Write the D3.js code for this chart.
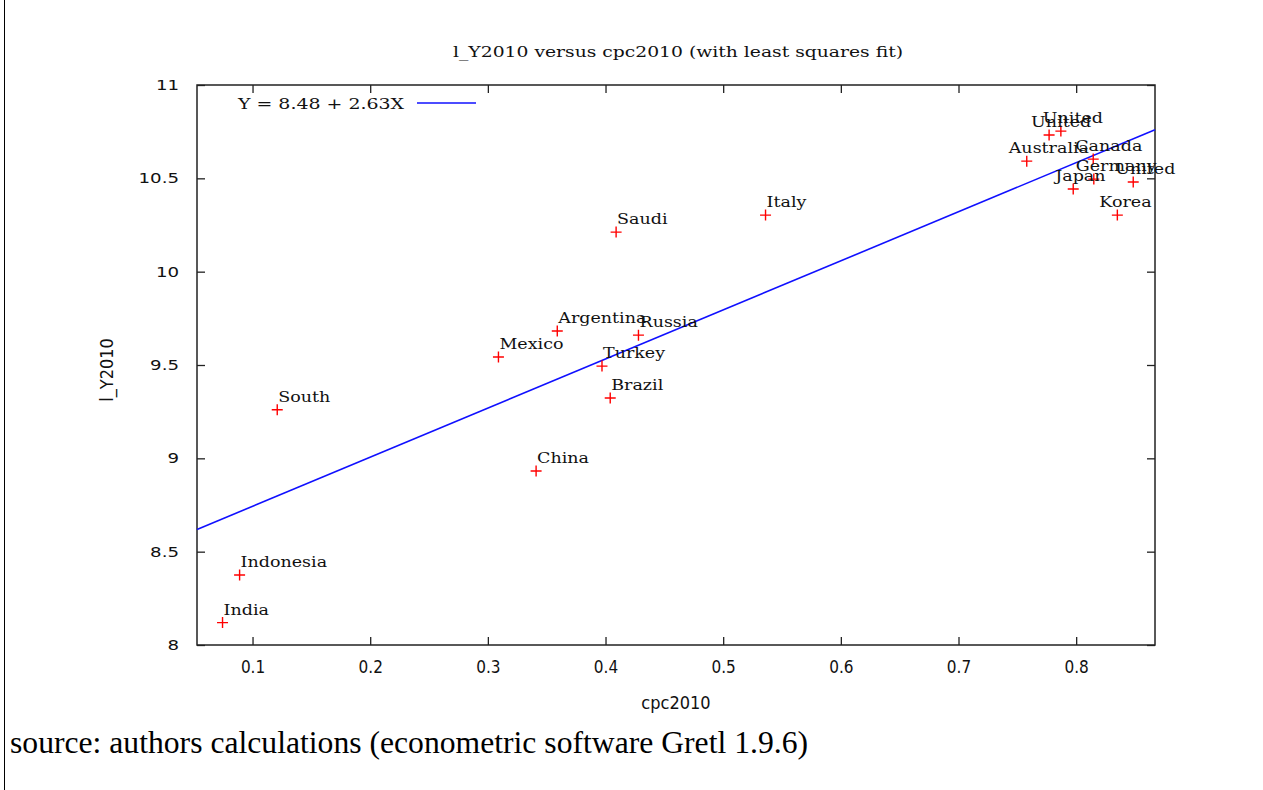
<!DOCTYPE html>
<html>
<head>
<meta charset="utf-8">
<script src="https://cdn.jsdelivr.net/npm/d3@7"></script>
<style>
  html, body { margin: 0; padding: 0; background: #fff; }
  svg { display: block; }
</style>
</head>
<body>
<div id="chart"></div>
<script>
// l_Y2010 vs cpc2010, gretl scatter with OLS fit

const countries = ['India', 'Indonesia', 'South', 'China', 'Mexico', 'Argentina', 'Turkey',
  'Russia', 'Brazil', 'Saudi', 'Italy', 'Australia', 'United', 'United', 'Canada',
  'Germany', 'Japan', 'United', 'Korea'];
const cpc2010 = [0.0745, 0.089, 0.121, 0.341, 0.309, 0.359, 0.397,
  0.428, 0.404, 0.409, 0.536, 0.758, 0.777, 0.787, 0.8145,
  0.815, 0.7975, 0.8485, 0.835];
const lY2010 = [8.12, 8.375, 9.26, 8.932, 9.543, 9.682, 9.494,
  9.66, 9.323, 10.212, 10.303, 10.592, 10.732, 10.753, 10.603,
  10.496, 10.443, 10.48, 10.303];

const fitIntercept = 8.48;
const fitSlope = 2.63;
const xTicks = [0.1, 0.2, 0.3, 0.4, 0.5, 0.6, 0.7, 0.8];
const yTicks = [8, 8.5, 9, 9.5, 10, 10.5, 11];
const xDomain = [0.0528, 0.867];
const yDomain = [8, 11];

const W = 1263, H = 790;
const plot = { left: 197, right: 1155, top: 85, bottom: 645 };

const svg = d3.select('#chart').append('svg')
  .attr('width', W).attr('height', H);

// page edge line on the left
svg.append('line')
  .attr('x1', 4.5).attr('x2', 4.5).attr('y1', 0).attr('y2', H)
  .attr('stroke', '#000').attr('stroke-width', 1);

const x = d3.scaleLinear().domain(xDomain).range([plot.left, plot.right]);
const y = d3.scaleLinear().domain(yDomain).range([plot.bottom, plot.top]);

// title
svg.append('text')
  .attr('x', 678).attr('y', 57)
  .attr('text-anchor', 'middle')
  .attr('font-family', 'DejaVu Serif')
  .attr('font-size', 14)
  .attr('textLength', 450).attr('lengthAdjust', 'spacingAndGlyphs')
  .attr('fill', '#111')
  .text('l_Y2010 versus cpc2010 (with least squares fit)');

// axes (gnuplot style: inward ticks, mirrored)
const tickLen = 8;
const axisB = svg.append('g').attr('transform', `translate(0,${plot.bottom})`)
  .call(d3.axisBottom(x).tickValues(xTicks).tickSize(-tickLen).tickPadding(16)
    .tickFormat(d3.format('.1f')));
const axisT = svg.append('g').attr('transform', `translate(0,${plot.top})`)
  .call(d3.axisTop(x).tickValues(xTicks).tickSize(-tickLen).tickFormat(''));
const axisL = svg.append('g').attr('transform', `translate(${plot.left},0)`)
  .call(d3.axisLeft(y).tickValues(yTicks).tickSize(-tickLen).tickPadding(18)
    .tickFormat(d => d3.format('')(d)));
const axisR = svg.append('g').attr('transform', `translate(${plot.right},0)`)
  .call(d3.axisRight(y).tickValues(yTicks).tickSize(-tickLen).tickFormat(''));

[axisB, axisT, axisL, axisR].forEach(g => {
  g.select('.domain').remove();
  g.selectAll('.tick line').attr('stroke', '#222').attr('stroke-width', 1.3);
});

axisB.selectAll('.tick text')
  .attr('font-family', 'DejaVu Sans Condensed')
  .attr('font-size', 17)
  .attr('fill', '#111');

axisL.selectAll('.tick text')
  .attr('font-family', 'DejaVu Sans')
  .attr('font-size', 14)
  .attr('fill', '#111')
  .attr('transform', 'scale(1.3,1)')
  .attr('x', -18 / 1.3);

// frame
svg.append('rect')
  .attr('x', plot.left).attr('y', plot.top)
  .attr('width', plot.right - plot.left).attr('height', plot.bottom - plot.top)
  .attr('fill', 'none').attr('stroke', '#222').attr('stroke-width', 1.5);

// axis titles
svg.append('text')
  .attr('x', 676).attr('y', 709)
  .attr('text-anchor', 'middle')
  .attr('font-family', 'DejaVu Sans Condensed')
  .attr('font-size', 18)
  .attr('fill', '#111')
  .text('cpc2010');

svg.append('text')
  .attr('transform', 'translate(113,370) rotate(-90)')
  .attr('text-anchor', 'middle')
  .attr('font-family', 'DejaVu Sans Condensed')
  .attr('font-size', 18)
  .attr('fill', '#111')
  .text('l_Y2010');

// least squares line
const fitLine = d3.line().x(d => x(d)).y(d => y(fitIntercept + fitSlope * d));
svg.append('path')
  .attr('d', fitLine(xDomain))
  .attr('fill', 'none')
  .attr('stroke', '#1010ff')
  .attr('stroke-width', 1.6);

// legend
svg.append('text')
  .attr('x', 238).attr('y', 109)
  .attr('font-family', 'DejaVu Serif')
  .attr('font-size', 14)
  .attr('textLength', 166).attr('lengthAdjust', 'spacingAndGlyphs')
  .attr('fill', '#111')
  .text(`Y = ${fitIntercept.toFixed(2)} + ${fitSlope.toFixed(2)}X`);
svg.append('line')
  .attr('x1', 417).attr('x2', 476).attr('y1', 103).attr('y2', 103)
  .attr('stroke', '#1010ff').attr('stroke-width', 1.5);

// points
const pts = countries.map((c, i) => ({ name: c, cx: cpc2010[i], cy: lY2010[i] }));
const arm = 5.5;
const marks = svg.append('g').selectAll('g.pt').data(pts).join('g')
  .attr('class', 'pt')
  .attr('transform', d => `translate(${x(d.cx)},${y(d.cy)})`);
marks.append('path')
  .attr('d', `M${-arm},0H${arm}M0,${-arm}V${arm}`)
  .attr('stroke', '#ff0000').attr('stroke-width', 1.4).attr('fill', 'none');

// labels (gretl nudges the labels left near the right edge)
svg.append('g').selectAll('text').data(pts).join('text')
  .attr('transform', d => {
    const lx = x(d.cx) + (d.cx > 0.7 ? -18 : 1);
    return `translate(${lx},${y(d.cy) - 8}) scale(1.25,1)`;
  })
  .attr('font-family', 'DejaVu Serif')
  .attr('font-size', 14)
  .attr('fill', '#111')
  .text(d => d.name);

// caption below the figure
svg.append('text')
  .attr('x', 10).attr('y', 753)
  .attr('font-family', 'Liberation Serif')
  .attr('font-size', 31)
  .attr('textLength', 798).attr('lengthAdjust', 'spacingAndGlyphs')
  .attr('fill', '#000')
  .text('source: authors calculations (econometric software Gretl 1.9.6)');
</script>
</body>
</html>
